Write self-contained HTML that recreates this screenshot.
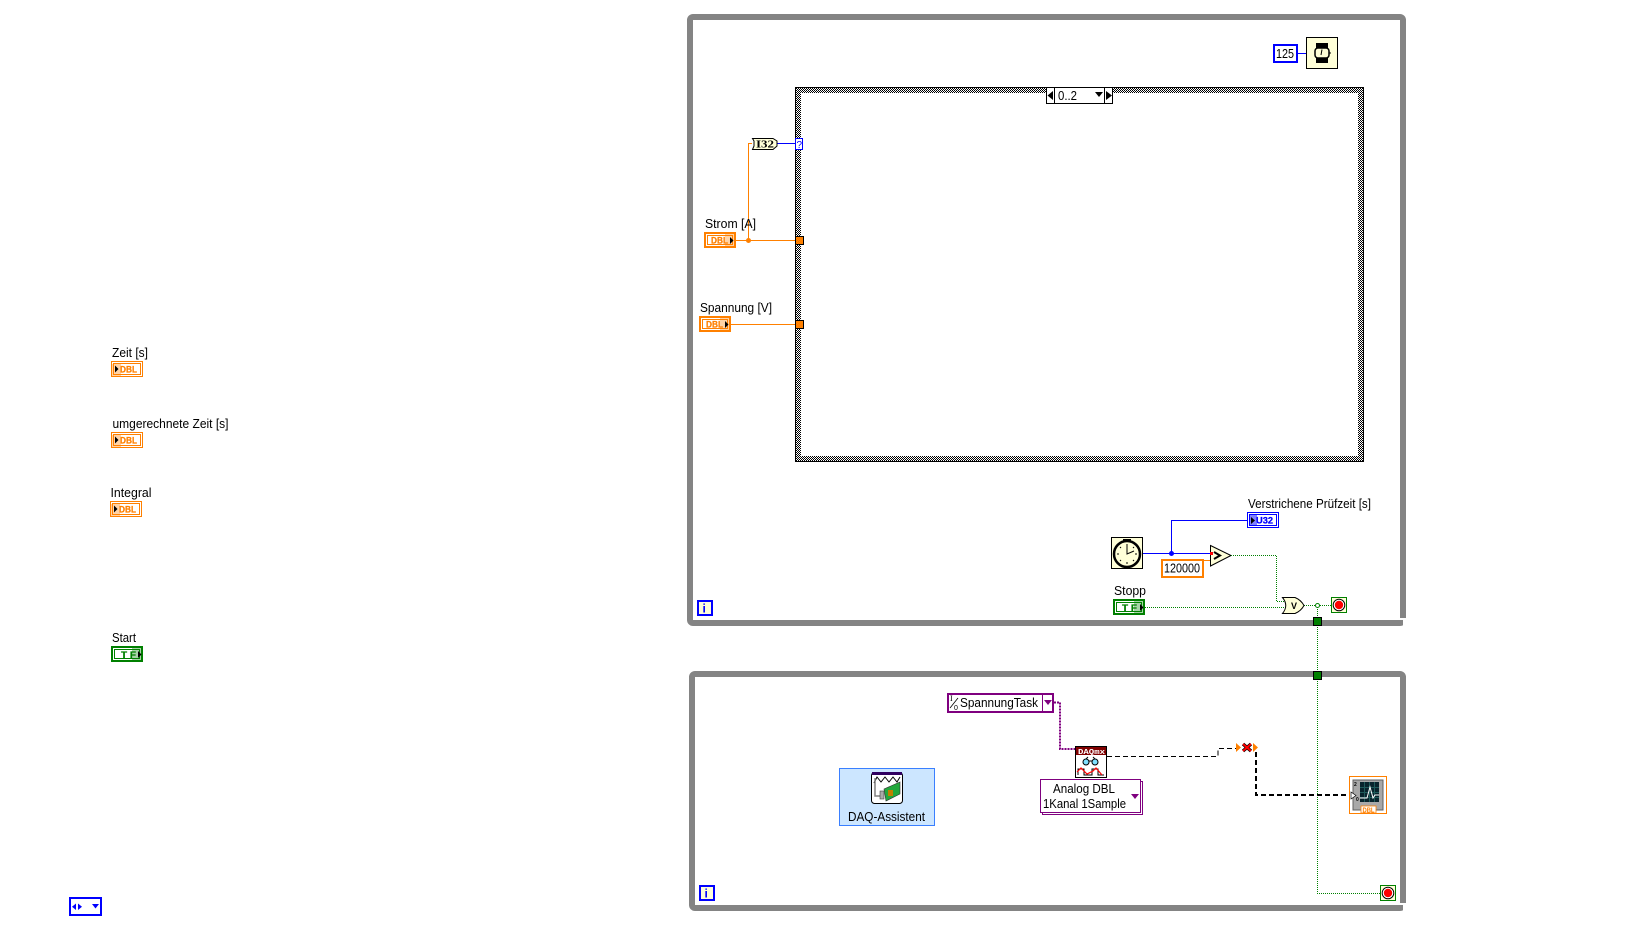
<!DOCTYPE html>
<html><head><meta charset="utf-8"><style>
html,body{margin:0;padding:0;background:#fff}
svg{display:block}
text{font-family:"Liberation Sans",sans-serif;font-size:12.5px;fill:#000}
.b{font-weight:bold;font-size:9px;fill:#ff8000;stroke:#ff8000;stroke-width:.25}
.w{fill:none;shape-rendering:crispEdges}
.c{shape-rendering:crispEdges}
</style></head><body>
<svg width="1636" height="938" viewBox="0 0 1636 938" xmlns="http://www.w3.org/2000/svg">
<defs>
<pattern id="chk" width="2" height="2" patternUnits="userSpaceOnUse">
<rect width="2" height="2" fill="#fff"/><rect width="1" height="1" fill="#000"/><rect x="1" y="1" width="1" height="1" fill="#000"/>
</pattern>
</defs>
<rect width="1636" height="938" fill="#fff"/>

<!-- loop frames -->
<rect x="690" y="17" width="713" height="606" rx="3" fill="none" stroke="#848484" stroke-width="6"/>
<rect x="692" y="674" width="711" height="234" rx="3" fill="none" stroke="#848484" stroke-width="6"/>
<rect x="1400" y="618" width="7" height="2" fill="#fff" class="c"/>
<rect x="1403" y="620" width="4" height="6" fill="#fff" class="c"/>
<rect x="1400" y="903" width="7" height="2" fill="#fff" class="c"/>
<rect x="1403" y="905" width="4" height="6" fill="#fff" class="c"/>

<!-- case structure -->
<path d="M795 87H1364V462H795Z M801 93V456H1358V93Z" fill="url(#chk)" fill-rule="evenodd" class="c"/>
<rect x="795.5" y="87.5" width="568" height="374" fill="none" stroke="#000" class="c"/>
<rect x="1046.5" y="87.5" width="66" height="16" fill="#fff" stroke="#000" class="c"/>
<path d="M1054.5 87V103M1104.5 87V103" stroke="#000" class="c"/>
<path d="M1053 91V100L1047.5 95.5Z M1106 91V100L1112 95.5Z M1095 92H1103L1099 97Z" fill="#000"/>
<text x="1058" y="100" textLength="19" lengthAdjust="spacingAndGlyphs">0..2</text>

<!-- wait -->
<rect x="1274" y="45" width="23" height="17" fill="#fff" stroke="#0000ff" stroke-width="2" class="c"/>
<text x="1276" y="58" textLength="18" lengthAdjust="spacingAndGlyphs">125</text>
<path d="M1298 53.5H1306" stroke="#0000ff" class="c"/>
<rect x="1306.5" y="37.5" width="31" height="31" fill="#ffffd8" stroke="#000" class="c"/>
<rect x="1316" y="43" width="12" height="6" fill="#000" class="c"/><rect x="1316" y="57" width="12" height="6" fill="#000" class="c"/>
<rect x="1315" y="48" width="14" height="10" rx="3" fill="#ffffd8" stroke="#000" stroke-width="1.5"/>
<path d="M1322 49.5L1321 55M1329 53h2" stroke="#000" fill="none"/>

<!-- wires top -->
<path class="w" d="M736 240.5H795M731 324.5H795M748.5 240V143.5H752" stroke="#ff8000"/>
<circle cx="748.5" cy="240.5" r="2.5" fill="#ff8000"/>
<path class="w" d="M777 143.5H795" stroke="#0000ff"/>

<!-- I32 -->
<path d="M752.5 138.5H773L777 141V146L773 149.5H752.5L754 146V141Z" fill="#ffffd8" stroke="#000"/>
<text x="756" y="147.5" style="font-family:'Liberation Serif',serif;font-weight:bold;font-size:11px" textLength="18" lengthAdjust="spacingAndGlyphs">I32</text>
<!-- selector terminal -->
<rect x="795.5" y="138.5" width="7" height="11" fill="#fff" stroke="#0000ff" class="c"/>
<text x="796.5" y="148" style="font-size:10px;fill:#0000ff">?</text>
<!-- tunnels -->
<rect x="795.5" y="236.5" width="8" height="8" fill="#ff8000" stroke="#000" class="c"/>
<rect x="795.5" y="320.5" width="8" height="8" fill="#ff8000" stroke="#000" class="c"/>

<!-- Strom -->
<text x="705" y="228" textLength="51" lengthAdjust="spacingAndGlyphs">Strom [A]</text>
<rect x="705" y="233" width="30" height="14" fill="#fff" stroke="#ff8000" stroke-width="2" class="c"/>
<rect x="707.5" y="235.5" width="25" height="9" fill="none" stroke="#ff8000" class="c"/>
<rect x="725" y="234" width="9" height="12" fill="#ff8000" opacity=".35" class="c"/>
<text x="711" y="243.5" class="b" textLength="17" lengthAdjust="spacingAndGlyphs">DBL</text>
<path d="M730 237V244L733.5 240.5Z" fill="#000"/>

<!-- Spannung -->
<text x="700" y="312" textLength="72" lengthAdjust="spacingAndGlyphs">Spannung [V]</text>
<rect x="700" y="317" width="30" height="14" fill="#fff" stroke="#ff8000" stroke-width="2" class="c"/>
<rect x="702.5" y="319.5" width="25" height="9" fill="none" stroke="#ff8000" class="c"/>
<rect x="720" y="318" width="9" height="12" fill="#ff8000" opacity=".35" class="c"/>
<text x="706" y="327.5" class="b" textLength="17" lengthAdjust="spacingAndGlyphs">DBL</text>
<path d="M725 321V328L728.5 324.5Z" fill="#000"/>

<!-- loop i upper -->
<rect x="698" y="601" width="14" height="14" fill="#ffffd8" stroke="#0000ff" stroke-width="2" class="c"/>
<text x="702.5" y="612.5" style="font-size:12px;font-weight:bold;fill:#0000ff">i</text>

<!-- time section -->
<path class="w" d="M1143 553.5H1210M1171.5 553V520.5H1247" stroke="#0000ff"/>
<circle cx="1171.5" cy="553.5" r="2.5" fill="#0000ff"/>
<path class="w" d="M1204 560.5H1210" stroke="#ff8000"/>
<rect x="1111.5" y="537.5" width="31" height="31" fill="#ffffd8" stroke="#000" class="c"/>
<rect x="1123" y="539" width="8" height="2" fill="#000" class="c"/>
<circle cx="1127" cy="554" r="13" fill="#ffffd8" stroke="#000" stroke-width="2.5"/>
<path d="M1127 544v2M1127 562v2M1117 554h2M1135 554h2M1120 547l1 1M1134 547l-1 1M1120 561l1-1M1134 561l-1-1" stroke="#000"/>
<path d="M1127 546V554L1134 551" fill="none" stroke="#000"/>

<text x="1248" y="508" textLength="123" lengthAdjust="spacingAndGlyphs">Verstrichene Prüfzeit [s]</text>
<rect x="1247.5" y="512.5" width="31" height="15" fill="#fff" stroke="#0000ff" class="c"/>
<rect x="1249.5" y="514.5" width="27" height="11" fill="none" stroke="#0000ff" class="c"/>
<rect x="1250" y="515" width="7" height="10" fill="#8080ff" class="c"/>
<path d="M1251 517V524L1255 520.5Z" fill="#000"/>
<text x="1256" y="523.5" class="b" style="fill:#0000ff;stroke:#0000ff" textLength="17" lengthAdjust="spacingAndGlyphs">U32</text>

<rect x="1162" y="560" width="41" height="17" fill="#fff" stroke="#ff8000" stroke-width="2" class="c"/>
<text x="1164" y="572.5" textLength="36" lengthAdjust="spacingAndGlyphs">120000</text>

<polygon points="1210.5,545.5 1231,555.5 1210.5,566" fill="#ffffd8" stroke="#000"/>
<path d="M1214 552L1220 555.5L1214 559" fill="none" stroke="#000" stroke-width="2"/>
<rect x="1210" y="552" width="3" height="3" fill="#ff0000" class="c"/>

<!-- boolean wires -->
<path class="w" d="M1231 555.5H1276.5V601.5H1286M1145 607.5H1287M1304 605.5H1331M1317.5 605V893.5H1380" stroke="#008000" stroke-dasharray="1 1"/>
<circle cx="1317.5" cy="605.5" r="2" fill="#fff" stroke="#008000"/>

<text x="1114" y="595" textLength="32" lengthAdjust="spacingAndGlyphs">Stopp</text>
<rect x="1114" y="600" width="30" height="14" fill="#fff" stroke="#008000" stroke-width="2" class="c"/>
<rect x="1116.5" y="602.5" width="25" height="9" fill="none" stroke="#008000" class="c"/>
<rect x="1134" y="601" width="9" height="12" fill="#008000" opacity=".35" class="c"/>
<text x="1122" y="611" class="b" style="fill:#008000;stroke:#008000" textLength="15" lengthAdjust="spacingAndGlyphs">T F</text>
<path d="M1140 604V611L1143.5 607.5Z" fill="#000"/>

<path d="M1282.5 597.5H1295Q1301 600 1304 605.5Q1301 611 1295 613.5H1282.5Q1289 605.5 1282.5 597.5Z" fill="#ffffd8" stroke="#000"/>
<text x="1291" y="609" style="font-size:9px;font-weight:bold">V</text>

<rect x="1331.5" y="597.5" width="15" height="15" fill="#ffffd8" stroke="#008000" class="c"/>
<circle cx="1339" cy="605" r="5.8" fill="#fff" stroke="#000"/><circle cx="1339" cy="605" r="4.2" fill="#ff0000"/>

<rect x="1313.5" y="617.5" width="8" height="8" fill="#008000" stroke="#000" class="c"/>
<rect x="1313.5" y="671.5" width="8" height="8" fill="#008000" stroke="#000" class="c"/>

<!-- lower loop -->
<rect x="700" y="886" width="14" height="14" fill="#ffffd8" stroke="#0000ff" stroke-width="2" class="c"/>
<text x="704.5" y="897.5" style="font-size:12px;font-weight:bold;fill:#0000ff">i</text>

<!-- DAQ assistant -->
<rect x="839.5" y="768.5" width="95" height="57" fill="#cce6ff" stroke="#3a7fff" class="c"/>
<rect x="871.5" y="772.5" width="31" height="31" rx="3" fill="#fff" stroke="#000"/>
<rect x="872" y="772" width="30" height="3" fill="#300060" class="c"/>
<path d="M874 783L877 777L881 782L885 777L889 782L893 777L897 782L900 777" fill="none" stroke="#000"/>
<path d="M875 778V796H881" fill="none" stroke="#808080" stroke-width="1.5"/>
<rect x="880" y="791" width="4" height="8" fill="#aaa" stroke="#444" stroke-width=".6"/>
<polygon points="884,789 900,782 900,794 886,801" fill="#22a83c" stroke="#333" stroke-width=".6"/>
<rect x="888" y="790" width="5" height="6" fill="#c08000"/>
<text x="848" y="821" textLength="77" lengthAdjust="spacingAndGlyphs">DAQ-Assistent</text>

<!-- task constant -->
<rect x="948" y="694" width="105" height="18" fill="#fff" stroke="#7f007f" stroke-width="2" class="c"/>
<path d="M1042.5 694V712" stroke="#7f007f" class="c"/>
<path d="M1044 700H1052L1048 705Z" fill="#7f007f"/>
<text x="950" y="701" style="font-size:8px;font-family:'Liberation Serif',serif">I</text>
<path d="M950 708L958 698" stroke="#000" stroke-width=".8"/>
<text x="954" y="710" style="font-size:7px">0</text>
<text x="960" y="707" textLength="78" lengthAdjust="spacingAndGlyphs">SpannungTask</text>
<path d="M1054 702.5H1060V749H1075" fill="none" stroke="#7f007f" stroke-width="2" stroke-dasharray="2 1" class="c"/>

<!-- DAQmx -->
<rect x="1075.5" y="746.5" width="31" height="31" fill="#fff" stroke="#000" class="c"/>
<rect x="1076" y="747" width="30" height="8" fill="#800000" class="c"/>
<text x="1078" y="754" style="font-size:7.5px;fill:#fff;font-family:'Liberation Mono',monospace;font-weight:bold" textLength="27" lengthAdjust="spacingAndGlyphs">DAQmx</text>
<circle cx="1086" cy="762" r="3" fill="#7fe0ff" stroke="#000"/><circle cx="1095" cy="762" r="3" fill="#7fe0ff" stroke="#000"/>
<path d="M1089 761h3M1086 759l2-2M1095 759l-2-2" stroke="#000" fill="none"/>
<path d="M1078 775V769H1084V775H1092V769H1098V775H1104" fill="none" stroke="#000"/>
<path d="M1077 772L1081 768L1087 774L1093 771L1096 768L1102 775" fill="none" stroke="#ff0000" stroke-width="1.2"/>

<!-- polymorphic selector -->
<rect x="1042.5" y="781.5" width="100" height="33" fill="#fff" stroke="#7f007f" class="c"/>
<rect x="1040.5" y="779.5" width="100" height="33" fill="#fff" stroke="#7f007f" class="c"/>
<path d="M1131 794H1139L1135 799Z" fill="#7f007f"/>
<text x="1053" y="793" textLength="62" lengthAdjust="spacingAndGlyphs">Analog DBL</text>
<text x="1043" y="808" textLength="83" lengthAdjust="spacingAndGlyphs">1Kanal 1Sample</text>

<!-- broken wire -->
<path class="w" d="M1107 756.5H1218V748.5H1236" stroke="#000" stroke-dasharray="5 3"/>
<path class="w" d="M1256 752V795H1347" stroke="#000" stroke-width="2" stroke-dasharray="5 3"/>
<path d="M1236 743V752L1241 747.5Z M1253 743V752L1258 747.5Z" fill="#ff8000"/>
<path d="M1243 744L1251 751M1251 744L1243 751" stroke="#000" stroke-width="3.4"/>
<path d="M1243 744L1251 751M1251 744L1243 751" stroke="#ff0000" stroke-width="2"/>

<!-- chart -->
<rect x="1349.5" y="776.5" width="37" height="37" fill="#fff" stroke="#ff8000" class="c"/>
<rect x="1353" y="780" width="30" height="30" fill="#a8a8a8" stroke="#606060" class="c"/>
<rect x="1360" y="782" width="19" height="20" fill="#08242c" class="c"/>
<path d="M1364.5 782v20M1369.5 782v20M1374.5 782v20M1360 787.5h19M1360 792.5h19M1360 797.5h19" stroke="#1f5a5a" class="c"/>
<path d="M1360 798h7l3-11l3 11l2-3h4" fill="none" stroke="#fff"/>
<path d="M1351 792L1351 799L1356 795.5Z" fill="#fff" stroke="#000" stroke-width=".7"/>
<text x="1354" y="786" style="font-size:5px;font-weight:bold">2</text>
<text x="1356" y="801" style="font-size:5px;font-weight:bold">0</text>
<rect x="1361" y="806" width="15" height="7" fill="#fff" stroke="#ff8000" stroke-width=".8"/>
<text x="1362.5" y="812.5" style="font-size:7px;fill:#ff8000;font-weight:bold" textLength="12" lengthAdjust="spacingAndGlyphs">DBL</text>

<!-- stop lower -->
<rect x="1380.5" y="885.5" width="15" height="15" fill="#ffffd8" stroke="#008000" class="c"/>
<circle cx="1388" cy="893" r="5.8" fill="#fff" stroke="#000"/><circle cx="1388" cy="893" r="4.2" fill="#ff0000"/>

<!-- left column -->
<text x="112" y="357" textLength="36" lengthAdjust="spacingAndGlyphs">Zeit [s]</text>
<rect x="111.5" y="361.5" width="31" height="15" fill="#fff" stroke="#ff8000" class="c"/>
<rect x="113.5" y="363.5" width="27" height="11" fill="none" stroke="#ff8000" class="c"/>
<rect x="112" y="364" width="9" height="12" fill="#ff8000" opacity=".35" class="c"/>
<path d="M115 365.5V372.5L118.5 369Z" fill="#000"/>
<text x="120" y="372.5" class="b" textLength="17" lengthAdjust="spacingAndGlyphs">DBL</text>

<text x="112.5" y="428" textLength="116" lengthAdjust="spacingAndGlyphs">umgerechnete Zeit [s]</text>
<rect x="111.5" y="432.5" width="31" height="15" fill="#fff" stroke="#ff8000" class="c"/>
<rect x="113.5" y="434.5" width="27" height="11" fill="none" stroke="#ff8000" class="c"/>
<rect x="112" y="435" width="9" height="12" fill="#ff8000" opacity=".35" class="c"/>
<path d="M115 436.5V443.5L118.5 440Z" fill="#000"/>
<text x="120" y="443.5" class="b" textLength="17" lengthAdjust="spacingAndGlyphs">DBL</text>

<text x="110.5" y="497" textLength="41" lengthAdjust="spacingAndGlyphs">Integral</text>
<rect x="110.5" y="501.5" width="31" height="15" fill="#fff" stroke="#ff8000" class="c"/>
<rect x="112.5" y="503.5" width="27" height="11" fill="none" stroke="#ff8000" class="c"/>
<rect x="111" y="504" width="9" height="12" fill="#ff8000" opacity=".35" class="c"/>
<path d="M114 505.5V512.5L117.5 509Z" fill="#000"/>
<text x="119" y="512.5" class="b" textLength="17" lengthAdjust="spacingAndGlyphs">DBL</text>

<text x="112" y="642" textLength="24" lengthAdjust="spacingAndGlyphs">Start</text>
<rect x="112" y="647" width="30" height="14" fill="#fff" stroke="#008000" stroke-width="2" class="c"/>
<rect x="114.5" y="649.5" width="25" height="9" fill="none" stroke="#008000" class="c"/>
<rect x="132" y="648" width="9" height="12" fill="#008000" opacity=".35" class="c"/>
<text x="121" y="658" class="b" style="fill:#008000;stroke:#008000" textLength="15" lengthAdjust="spacingAndGlyphs">T F</text>
<path d="M138 651V658L141.5 654.5Z" fill="#000"/>

<rect x="70" y="898" width="31" height="17" fill="#fff" stroke="#0000ff" stroke-width="2" class="c"/>
<path d="M76 903.5V910L72 906.7Z M78 903.5V910L82 906.7Z M92 904H99L95.5 908.5Z" fill="#0000ff"/>
</svg>
</body></html>
